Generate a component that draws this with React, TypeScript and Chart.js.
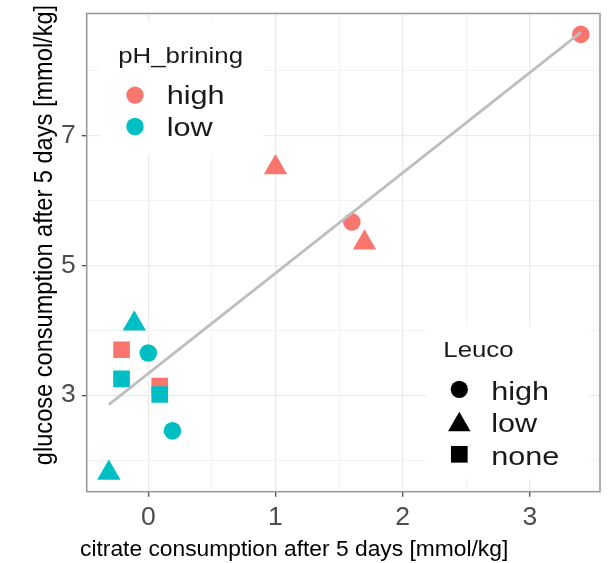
import React, { useEffect, useRef } from "react";
import { Chart, registerables } from "chart.js";

Chart.register(...registerables);

// ---- data ----
const citrate = [3.4, 1.0, 1.6, 1.7, -0.21, 0.09, -0.11, 0.0, -0.21, 0.09, 0.19, -0.31];
const glucose = [8.56, 6.51, 5.67, 5.35, 3.7, 3.14, 4.1, 3.65, 3.25, 3.01, 2.45, 1.8];
const phBrining = ["high", "high", "high", "high", "high", "high", "low", "low", "low", "low", "low", "low"];
const leuco = ["high", "low", "high", "low", "none", "none", "low", "high", "none", "none", "high", "low"];

const phLevels = ["high", "low"];
const leucoLevels = ["high", "low", "none"];

const xBreaks = [0, 1, 2, 3];
const xTickLabels = ["0", "1", "2", "3"];
const xMinor = [0.5, 1.5, 2.5, 3.5];
const yBreaks = [3, 5, 7];
const yTickLabels = ["3", "5", "7"];
const yMinor = [2, 4, 6, 8];

const xTitle = "citrate consumption after 5 days [mmol/kg]";
const yTitle = "glucose consumption after 5 days [mmol/kg]";
const phTitle = "pH_brining";
const leucoTitle = "Leuco";

// ---- styles ----
const phColors: Record<string, string> = { high: "#F8766D", low: "#00BFC4" };
const shapeStyle: Record<string, string> = { high: "circle", low: "triangle", none: "rect" };
const shapeRadius: Record<string, number> = { high: 8.8, low: 13.5, none: 11.8 };
const FONT = '"Liberation Sans", Arial, Helvetica, sans-serif';

function fit() {
  const n = citrate.length;
  const mx = citrate.reduce((a, b) => a + b, 0) / n;
  const my = glucose.reduce((a, b) => a + b, 0) / n;
  let sxy = 0, sxx = 0;
  for (let i = 0; i < n; i++) {
    sxy += (citrate[i] - mx) * (glucose[i] - my);
    sxx += (citrate[i] - mx) * (citrate[i] - mx);
  }
  const b = sxy / sxx;
  const a = my - b * mx;
  const x0 = Math.min(...citrate);
  const x1 = Math.max(...citrate);
  return [
    { x: x0, y: a + b * x0 },
    { x: x1, y: a + b * x1 },
  ];
}

function drawText(ctx: CanvasRenderingContext2D, text: string, x: number, y: number, size: number, sx: number, color: string) {
  ctx.save();
  ctx.translate(x, y);
  ctx.scale(sx, 1);
  ctx.font = `${size}px ${FONT}`;
  ctx.fillStyle = color;
  ctx.textAlign = "left";
  ctx.textBaseline = "alphabetic";
  ctx.fillText(text, 0, 0);
  ctx.restore();
}

function drawShape(ctx: CanvasRenderingContext2D, style: string, x: number, y: number, r: number, color: string) {
  ctx.save();
  ctx.fillStyle = color;
  ctx.beginPath();
  if (style === "circle") {
    ctx.arc(x, y, r, 0, Math.PI * 2);
  } else if (style === "triangle") {
    let rad = 0;
    ctx.moveTo(x + Math.sin(rad) * r, y - Math.cos(rad) * r);
    rad += (2 * Math.PI) / 3;
    ctx.lineTo(x + Math.sin(rad) * r, y - Math.cos(rad) * r);
    rad += (2 * Math.PI) / 3;
    ctx.lineTo(x + Math.sin(rad) * r, y - Math.cos(rad) * r);
    ctx.closePath();
  } else {
    const s = r * Math.SQRT1_2;
    ctx.rect(x - s, y - s, 2 * s, 2 * s);
  }
  ctx.fill();
  ctx.restore();
}

const overlayPlugin = {
  id: "overlay",
  afterDatasetsDraw(chart: any) {
    const ctx: CanvasRenderingContext2D = chart.ctx;
    const { left, right, top, bottom } = chart.chartArea;
    // panel border
    ctx.save();
    ctx.strokeStyle = "#9a9a9a";
    ctx.lineWidth = 1.6;
    ctx.strokeRect(left, top, right - left, bottom - top);
    ctx.restore();

    // legend 1: pH_brining
    ctx.save();
    ctx.fillStyle = "#ffffff";
    ctx.fillRect(left + 12.5, top + 8, 164, 133);
    ctx.restore();
    drawText(ctx, phTitle, left + 31.5, top + 49.5, 21.5, 1.2, "#1a1a1a");
    phLevels.forEach((lv, i) => {
      const cy = top + 81.6 + i * 31.4;
      drawShape(ctx, "circle", left + 48.3, cy, 8.7, phColors[lv]);
      drawText(ctx, lv, left + 80, cy + 9, 25.5, 1.2, "#1a1a1a");
    });

    // legend 2: Leuco
    ctx.save();
    ctx.fillStyle = "#ffffff";
    ctx.fillRect(left + 339, top + 313, 164, 152);
    ctx.restore();
    drawText(ctx, leucoTitle, left + 356.6, top + 343, 21.5, 1.2, "#1a1a1a");
    leucoLevels.forEach((lv, i) => {
      const cy = top + 375.8 + i * 32.5;
      const style = shapeStyle[lv];
      const r = style === "circle" ? 8.6 : style === "triangle" ? 13 : 11.8;
      const yy = style === "triangle" ? cy + 3 : cy;
      drawShape(ctx, style, left + 372.6, yy, r, "#000000");
      drawText(ctx, lv, left + 404.5, cy + 10.5, 25.5, 1.2, "#1a1a1a");
    });
  },
  afterDraw(chart: any) {
    const ctx: CanvasRenderingContext2D = chart.ctx;
    const { top, bottom } = chart.chartArea;
    // x title
    drawText(ctx, xTitle, 80, bottom + 63.8, 22.8, 1, "#000000");
    // y title
    ctx.save();
    ctx.translate(51.5, top + 221.5);
    ctx.rotate(-Math.PI / 2);
    ctx.scale(1, 1.06);
    ctx.font = `23.6px ${FONT}`;
    ctx.fillStyle = "#000000";
    ctx.textAlign = "center";
    ctx.textBaseline = "alphabetic";
    ctx.fillText(yTitle, 0, 0);
    ctx.restore();
  },
};

function buildDataset(level: string) {
  const idx = citrate.map((_, i) => i).filter((i) => phBrining[i] === level);
  return {
    label: level,
    data: idx.map((i) => ({ x: citrate[i], y: glucose[i] })),
    pointStyle: idx.map((i) => shapeStyle[leuco[i]]),
    pointRadius: idx.map((i) => shapeRadius[leuco[i]]),
    pointBackgroundColor: phColors[level],
    pointBorderWidth: 0,
    pointBorderColor: phColors[level],
    showLine: false,
  };
}

export default function App() {
  const ref = useRef<HTMLCanvasElement | null>(null);
  useEffect(() => {
    document.body.style.margin = "0";
    const canvas = ref.current;
    if (!canvas) return;
    const lineDs = {
      label: "fit",
      data: fit(),
      showLine: true,
      borderColor: "#BEBEBE",
      borderWidth: 2.8,
      pointRadius: 0,
      fill: false,
    };
    const majorX = (v: number) => xBreaks.includes(v);
    const majorY = (v: number) => yBreaks.includes(v);
    const chart = new Chart(canvas, {
      type: "scatter",
      data: { datasets: [lineDs, buildDataset("low"), buildDataset("high")] as any },
      options: {
        responsive: false,
        animation: false,
        devicePixelRatio: 1,
        layout: { padding: { top: 12.7, right: 15, left: 0, bottom: 0 } },
        plugins: { legend: { display: false }, tooltip: { enabled: false } },
        scales: {
          x: {
            type: "linear",
            min: -0.484,
            max: 3.551,
            afterBuildTicks: (s: any) => {
              s.ticks = [...xBreaks, ...xMinor].sort((a, b) => a - b).map((v) => ({ value: v }));
            },
            afterFit: (s: any) => {
              s.height = 71.3;
              s.paddingLeft = 0;
              s.paddingRight = 0;
              s.paddingTop = 0;
              s.paddingBottom = 0;
            },
            border: { display: false },
            grid: {
              color: (c: any) => (majorX(c.tick?.value) ? "#EBEBEB" : "#F2F2F2"),
              lineWidth: (c: any) => (majorX(c.tick?.value) ? 1.3 : 0.9),
              tickColor: (c: any) => (majorX(c.tick?.value) ? "#555555" : "rgba(0,0,0,0)"),
              tickWidth: 1.4,
              tickLength: 5,
              drawTicks: true,
            },
            ticks: {
              autoSkip: false,
              maxRotation: 0,
              padding: 5,
              color: "#4D4D4D",
              font: { family: FONT, size: 26.5 },
              callback: (v: any) => {
                const i = xBreaks.indexOf(Number(v));
                return i >= 0 ? xTickLabels[i] : "";
              },
            },
          },
          y: {
            type: "linear",
            min: 1.512,
            max: 8.882,
            afterBuildTicks: (s: any) => {
              s.ticks = [...yBreaks, ...yMinor].sort((a, b) => a - b).map((v) => ({ value: v }));
            },
            afterFit: (s: any) => {
              s.width = 86.7;
              s.paddingLeft = 0;
              s.paddingRight = 0;
              s.paddingTop = 0;
              s.paddingBottom = 0;
            },
            border: { display: false },
            grid: {
              color: (c: any) => (majorY(c.tick?.value) ? "#EBEBEB" : "#F2F2F2"),
              lineWidth: (c: any) => (majorY(c.tick?.value) ? 1.3 : 0.9),
              tickColor: (c: any) => (majorY(c.tick?.value) ? "#555555" : "rgba(0,0,0,0)"),
              tickWidth: 1.4,
              tickLength: 5,
              drawTicks: true,
            },
            ticks: {
              autoSkip: false,
              padding: 6,
              color: "#4D4D4D",
              font: { family: FONT, size: 26.5 },
              callback: (v: any) => {
                const i = yBreaks.indexOf(Number(v));
                return i >= 0 ? yTickLabels[i] : "";
              },
            },
          },
        },
      },
      plugins: [overlayPlugin],
    });
    return () => chart.destroy();
  }, []);
  return (
    <canvas
      ref={ref}
      width={615}
      height={563}
      style={{ display: "block", width: "615px", height: "563px" }}
    />
  );
}
